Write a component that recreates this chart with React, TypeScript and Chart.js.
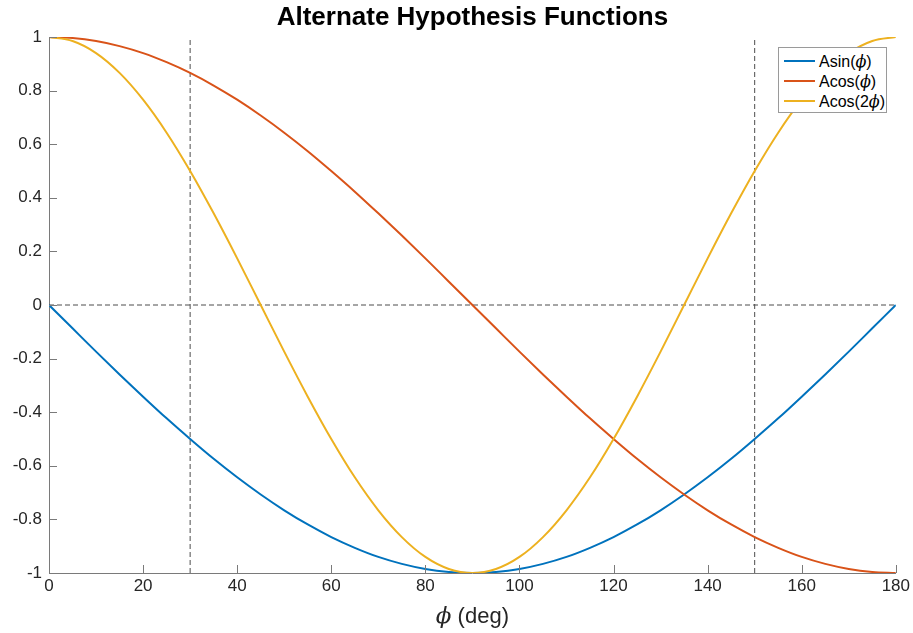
import React, { useEffect, useRef } from "react";
import { Chart, registerables } from "chart.js";

Chart.register(...registerables);

// φ in degrees, sampled every 5°
const phiDeg = [0, 5, 10, 15, 20, 25, 30, 35, 40, 45, 50, 55, 60, 65, 70, 75, 80, 85, 90,
  95, 100, 105, 110, 115, 120, 125, 130, 135, 140, 145, 150, 155, 160, 165, 170, 175, 180];

const asinVals = [0, -0.087, -0.174, -0.259, -0.342, -0.423, -0.5, -0.574, -0.643, -0.707,
  -0.766, -0.819, -0.866, -0.906, -0.94, -0.966, -0.985, -0.996, -1,
  -0.996, -0.985, -0.966, -0.94, -0.906, -0.866, -0.819, -0.766, -0.707, -0.643,
  -0.574, -0.5, -0.423, -0.342, -0.259, -0.174, -0.087, 0];

const acosVals = [1, 0.996, 0.985, 0.966, 0.94, 0.906, 0.866, 0.819, 0.766, 0.707,
  0.643, 0.574, 0.5, 0.423, 0.342, 0.259, 0.174, 0.087, 0,
  -0.087, -0.174, -0.259, -0.342, -0.423, -0.5, -0.574, -0.643, -0.707, -0.766,
  -0.819, -0.866, -0.906, -0.94, -0.966, -0.985, -0.996, -1];

const acos2Vals = [1, 0.985, 0.94, 0.866, 0.766, 0.643, 0.5, 0.342, 0.174, 0,
  -0.174, -0.342, -0.5, -0.643, -0.766, -0.866, -0.94, -0.985, -1,
  -0.985, -0.94, -0.866, -0.766, -0.643, -0.5, -0.342, -0.174, 0, 0.174,
  0.342, 0.5, 0.643, 0.766, 0.866, 0.94, 0.985, 1];

const verticalRefs = [30, 150];
const horizontalRefs = [0];

const seriesNames = ["Asin", "Acos", "Acos"];
const seriesArgs = ["ϕ", "ϕ", "2ϕ"];
const seriesColors = ["#0072BD", "#D95319", "#EDB120"];

const titleText = "Alternate Hypothesis Functions";
const xLabelSym = "ϕ";
const xLabelRest = " (deg)";

const FONT = "'Liberation Sans', Arial, Helvetica, sans-serif";
const SERIF = "'DejaVu Serif', 'Liberation Serif', serif";

function fmt(v: number): string {
  const n = Math.round(v * 10) / 10;
  return (Object.is(n, -0) ? 0 : n).toString();
}

const decorPlugin = {
  id: "decor",
  afterDraw(chart: any) {
    const { ctx, chartArea, scales } = chart;
    const xs = scales.x;
    const ys = scales.y;
    ctx.save();
    // inward ticks
    ctx.strokeStyle = "#7a7a7a";
    ctx.lineWidth = 1;
    ctx.beginPath();
    xs.ticks.forEach((t: any) => {
      const px = Math.round(xs.getPixelForValue(t.value)) + 0.5;
      ctx.moveTo(px, chartArea.bottom);
      ctx.lineTo(px, chartArea.bottom - 8);
    });
    ys.ticks.forEach((t: any) => {
      const py = Math.round(ys.getPixelForValue(t.value)) + 0.5;
      ctx.moveTo(chartArea.left, py);
      ctx.lineTo(chartArea.left + 8, py);
    });
    ctx.stroke();

    // title
    const cx = (chartArea.left + chartArea.right) / 2;
    ctx.fillStyle = "#000";
    ctx.font = `bold 26px ${FONT}`;
    ctx.textAlign = "center";
    ctx.textBaseline = "middle";
    ctx.fillText(titleText, cx, 18);

    // x axis label with italic phi
    ctx.textAlign = "left";
    ctx.fillStyle = "#262626";
    ctx.font = `italic 23px ${SERIF}`;
    const w1 = ctx.measureText(xLabelSym).width;
    ctx.font = `22px ${FONT}`;
    const w2 = ctx.measureText(xLabelRest).width;
    const start = cx - (w1 + w2) / 2;
    ctx.font = `italic 23px ${SERIF}`;
    ctx.fillText(xLabelSym, start, 617);
    ctx.font = `22px ${FONT}`;
    ctx.fillText(xLabelRest, start + w1, 617);
    ctx.restore();
  },
};

export default function App() {
  const canvasRef = useRef<HTMLCanvasElement | null>(null);

  useEffect(() => {
    const canvas = canvasRef.current;
    if (!canvas) return;
    const mk = (vals: number[]) => phiDeg.map((x, i) => ({ x, y: vals[i] }));
    const refSets: any[] = [];
    verticalRefs.forEach((v) =>
      refSets.push({
        data: [{ x: v, y: -1 }, { x: v, y: 1 }],
        borderColor: "#4d4d4d",
        borderWidth: 1,
        borderDash: [5, 3],
        pointRadius: 0,
        order: 5,
      })
    );
    horizontalRefs.forEach((h) =>
      refSets.push({
        data: [{ x: 0, y: h }, { x: 180, y: h }],
        borderColor: "#4d4d4d",
        borderWidth: 1,
        borderDash: [5, 3],
        pointRadius: 0,
        order: 5,
      })
    );
    const vals = [asinVals, acosVals, acos2Vals];
    const chart = new Chart(canvas, {
      type: "line",
      data: {
        datasets: [
          ...vals.map((v, i) => ({
            label: `${seriesNames[i]}(${seriesArgs[i]})`,
            data: mk(v),
            borderColor: seriesColors[i],
            backgroundColor: seriesColors[i],
            borderWidth: 2,
            pointRadius: 0,
            cubicInterpolationMode: "monotone" as const,
            order: 2 - i,
          })),
          ...refSets,
        ],
      },
      options: {
        animation: false,
        responsive: false,
        layout: { padding: { left: 0, right: 16, top: 37, bottom: 0 } },
        plugins: { legend: { display: false }, title: { display: false }, tooltip: { enabled: false } },
        scales: {
          x: {
            type: "linear",
            min: 0,
            max: 180,
            ticks: {
              stepSize: 20,
              color: "#262626",
              font: { family: FONT, size: 17 },
              padding: 3,
              maxRotation: 0,
            },
            grid: { display: false, drawTicks: false },
            border: { color: "#7a7a7a", width: 1 },
            afterFit: (s: any) => {
              s.height = 60;
            },
          },
          y: {
            type: "linear",
            min: -1,
            max: 1,
            ticks: {
              stepSize: 0.2,
              color: "#262626",
              font: { family: FONT, size: 17 },
              padding: 7,
              callback: (v: any) => fmt(Number(v)),
            },
            grid: { display: false, drawTicks: false },
            border: { color: "#7a7a7a", width: 1 },
            afterFit: (s: any) => {
              s.width = 49;
            },
          },
        },
      },
      plugins: [decorPlugin],
    });
    return () => chart.destroy();
  }, []);

  return (
    <div style={{ position: "fixed", left: 0, top: 0, width: 913, height: 633, background: "#fff" }}>
      <canvas ref={canvasRef} width={913} height={633} style={{ display: "block" }} />
      <div
        style={{
          position: "absolute",
          left: 778,
          top: 47,
          width: 107,
          height: 64,
          border: "1px solid #9a9a9a",
          background: "#fff",
          fontFamily: FONT,
          fontSize: 16,
          color: "#000",
          boxSizing: "content-box",
        }}
      >
        {seriesNames.map((n, i) => (
          <div key={i} style={{ position: "absolute", left: 0, top: 3 + i * 20, height: 20, display: "flex", alignItems: "center", whiteSpace: "nowrap" }}>
            <span style={{ display: "inline-block", width: 31, height: 2, marginLeft: 5, marginRight: 4, background: seriesColors[i] }} />
            <span>
              {n}(
              {seriesArgs[i].length > 1 ? seriesArgs[i].slice(0, -1) : ""}
              <i style={{ fontFamily: SERIF }}>{seriesArgs[i].slice(-1)}</i>)
            </span>
          </div>
        ))}
      </div>
    </div>
  );
}
